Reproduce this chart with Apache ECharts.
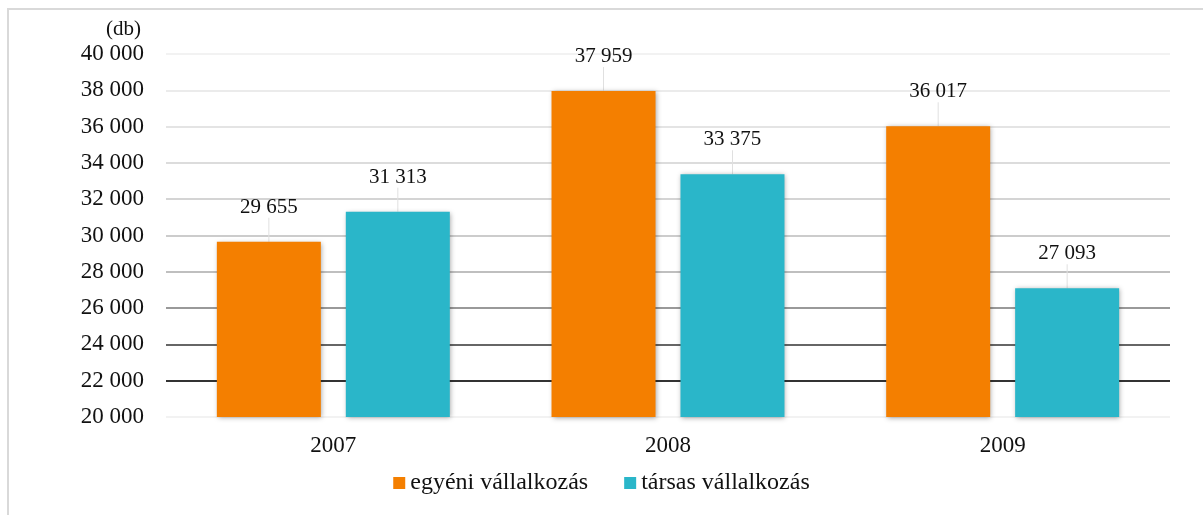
<html>
<head>
<meta charset="UTF-8">
<title>Vállalkozások</title>
<script src="https://cdn.jsdelivr.net/npm/echarts@6/dist/echarts.min.js"></script>
<style>
  body { margin: 0; background: #fff; }
  #frame { position: absolute; left: 7px; top: 8px; width: 1200px; height: 520px; border: 2px solid #d9d9d9; box-sizing: border-box; }
  #main { position: absolute; left: 0; top: 0; width: 1203px; height: 515px; }
</style>
</head>
<body>
<div id="frame"></div>
<div id="main"></div>
<script type="text/javascript">
var years = ['2007', '2008', '2009'];
var egyeni = [29655, 37959, 36017];
var tarsas = [31313, 33375, 27093];
var seriesNames = ['egyéni vállalkozás', 'társas vállalkozás'];
// gridline shades, from 20 000 upwards
var gridShades = ['#f2f2f2', '#333333', '#666666', '#999999', '#bfbfbf', '#cccccc', '#d4d4d4', '#dcdcdc', '#e4e4e4', '#ebebeb', '#f2f2f2'];

function fmt(v) {
  return String(v).replace(/\B(?=(\d{3})+(?!\d))/g, ' ');
}

var font = '"Liberation Serif", "Times New Roman", serif';
var myChart = echarts.init(document.getElementById('main'));

var barLabel = {
  show: true,
  position: 'top',
  distance: 5,
  color: '#111',
  fontFamily: font,
  fontSize: 21,
  formatter: function (p) { return fmt(p.value); }
};

var option = {
  animation: false,
  textStyle: { fontFamily: font },
  title: {
    text: '(db)',
    left: 101,
    top: 14,
    textStyle: { fontFamily: font, fontSize: 21, fontWeight: 'normal', color: '#111' }
  },
  legend: {
    bottom: 15,
    left: 'center',
    itemWidth: 12,
    itemHeight: 12,
    itemGap: 36,
    icon: 'rect',
    data: seriesNames,
    textStyle: { fontFamily: font, fontSize: 24, color: '#111' }
  },
  grid: { left: 166, right: 33, top: 54, bottom: 98 },
  xAxis: {
    type: 'category',
    data: years,
    axisLine: { show: false },
    axisTick: { show: false },
    axisLabel: { color: '#111', fontFamily: font, fontSize: 23, margin: 17 }
  },
  yAxis: {
    type: 'value',
    min: 20000,
    max: 40000,
    interval: 2000,
    axisLine: { show: false },
    axisTick: { show: false },
    axisLabel: { color: '#111', fontFamily: font, fontSize: 23, margin: 22, formatter: fmt },
    splitLine: { lineStyle: { color: gridShades, width: 2 } }
  },
  series: [
    {
      name: seriesNames[0],
      type: 'bar',
      data: egyeni,
      barWidth: 104,
      barGap: '24%',
      itemStyle: { color: '#f47f00', shadowBlur: 5, shadowColor: 'rgba(0,0,0,0.35)', shadowOffsetX: 1, shadowOffsetY: 1 },
      label: barLabel,
      labelLayout: { dy: -19 },
      labelLine: { show: true, lineStyle: { color: '#e0e0e0', width: 1 } }
    },
    {
      name: seriesNames[1],
      type: 'bar',
      data: tarsas,
      barWidth: 104,
      itemStyle: { color: '#2ab6c9', shadowBlur: 5, shadowColor: 'rgba(0,0,0,0.35)', shadowOffsetX: 1, shadowOffsetY: 1 },
      label: barLabel,
      labelLayout: { dy: -19 },
      labelLine: { show: true, lineStyle: { color: '#e0e0e0', width: 1 } }
    }
  ]
};
myChart.setOption(option);
</script>
</body>
</html>
